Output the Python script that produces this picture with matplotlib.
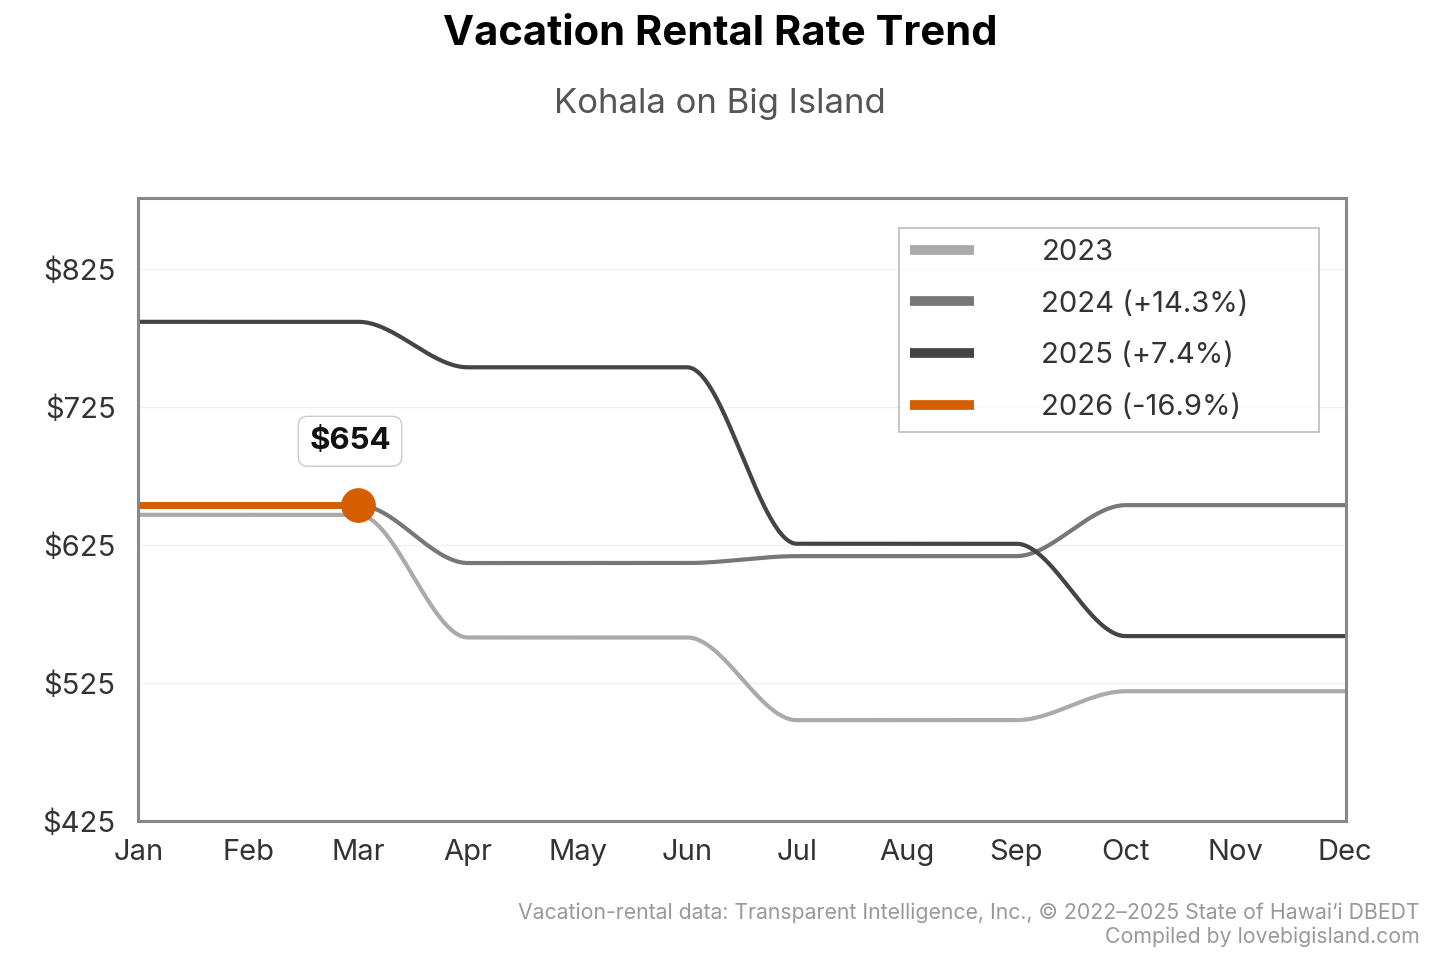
import numpy as np
import matplotlib
matplotlib.use("Agg")
import matplotlib.pyplot as plt

plt.rcParams['font.family'] = ['Inter', 'DejaVu Sans']

months = ["Jan", "Feb", "Mar", "Apr", "May", "Jun", "Jul", "Aug", "Sep", "Oct", "Nov", "Dec"]
rate_2023 = [647, 647, 647, 558, 558, 558, 498, 498, 498, 519, 519, 519]
rate_2024 = [654, 654, 654, 612, 612, 612, 617, 617, 617, 654, 654, 654]
rate_2025 = [787, 787, 787, 754, 754, 754, 626, 626, 626, 559, 559, 559]
rate_2026 = [654, 654, 654]
labels = ["2023", "2024 (+14.3%)", "2025 (+7.4%)", "2026 (-16.9%)"]
colors = ["#aaaaaa", "#777777", "#444444", "#d55e00"]
yticks = [425, 525, 625, 725, 825]


def monotone(y, n=60):
    # monotone cubic (Fritsch-Carlson) for drawing the smooth curve
    y = np.asarray(y, float)
    x = np.arange(len(y), dtype=float)
    d = np.diff(y)
    m = np.zeros(len(y))
    for i in range(1, len(y) - 1):
        if d[i - 1] * d[i] > 0:
            m[i] = 2 / (1 / d[i - 1] + 1 / d[i])
    xs, ys = [], []
    for i in range(len(y) - 1):
        t = np.linspace(0, 1, n)
        h00 = 2 * t**3 - 3 * t**2 + 1
        h10 = t**3 - 2 * t**2 + t
        h01 = -2 * t**3 + 3 * t**2
        h11 = t**3 - t**2
        xs.append(x[i] + t)
        ys.append(h00 * y[i] + h10 * m[i] + h01 * y[i + 1] + h11 * m[i + 1])
    return np.concatenate(xs), np.concatenate(ys)


fig = plt.figure(figsize=(14.4, 9.6), dpi=100)
ax = fig.add_axes([0.0958, 0.145, 0.839, 0.649])

for data, lab, c in zip([rate_2023, rate_2024, rate_2025], labels[:3], colors[:3]):
    xs, ys = monotone(data)
    ax.plot(xs, ys, color=c, lw=3, label=lab, solid_capstyle='butt', zorder=2)

xs, ys = monotone(rate_2026)
ax.plot(xs, ys, color=colors[3], lw=5, label=labels[3], solid_capstyle='butt', zorder=3)
ax.plot(len(rate_2026) - 1, rate_2026[-1], 'o', color=colors[3], ms=24, zorder=4)

ax.annotate(f"${rate_2026[-1]}", xy=(len(rate_2026) - 1, rate_2026[-1]),
            xytext=(-6, 46), textcoords='offset points', ha='center', va='center',
            fontsize=22.5, fontweight='bold', color='#111111',
            bbox=dict(boxstyle='round,pad=0.35,rounding_size=0.3', fc='white', ec='#cccccc', lw=1))

ax.set_xlim(-0.01, 11.01)
ax.set_ylim(425, 877)
ax.set_xticks(range(12))
ax.set_xticklabels(months)
ax.set_yticks(yticks)
ax.set_yticklabels([f"${v}" for v in yticks])
ax.tick_params(length=0, labelsize=21, colors='#333333')
ax.tick_params(axis='y', pad=16)
ax.tick_params(axis='x', pad=13)
ax.grid(axis='y', color='#f0f0f0', lw=1)
ax.set_axisbelow(True)
for s in ax.spines.values():
    s.set_color('#888888')
    s.set_linewidth(2.2)

leg = ax.legend(loc='upper left', bbox_to_anchor=(0.630, 0.626, 0.3477, 0.326), mode='expand',
                borderaxespad=0, fontsize=21, handlelength=2.2, handletextpad=2.3,
                labelspacing=0.85, frameon=True, fancybox=False, edgecolor='#aaaaaa',
                borderpad=0.38)
leg.get_frame().set_linewidth(1.2)
for t in leg.get_texts():
    t.set_color('#333333')
for line in leg.get_lines():
    line.set_linewidth(7)

fig.text(0.5, 0.965, "Vacation Rental Rate Trend", ha='center', va='center',
         fontsize=30, fontweight='bold', color='#000000')
fig.text(0.5, 0.892, "Kohala on Big Island", ha='center', va='center',
         fontsize=25, color='#555555')
fig.text(0.986, 0.049, "Vacation-rental data: Transparent Intelligence, Inc., \u00a9 2022\u20132025 State of Hawai\u2018i DBEDT",
         ha='right', va='center', fontsize=15.3, color='#999999')
fig.text(0.986, 0.024, "Compiled by lovebigisland.com", ha='right', va='center',
         fontsize=15.3, color='#999999')

fig.savefig("out.png", dpi=100)
